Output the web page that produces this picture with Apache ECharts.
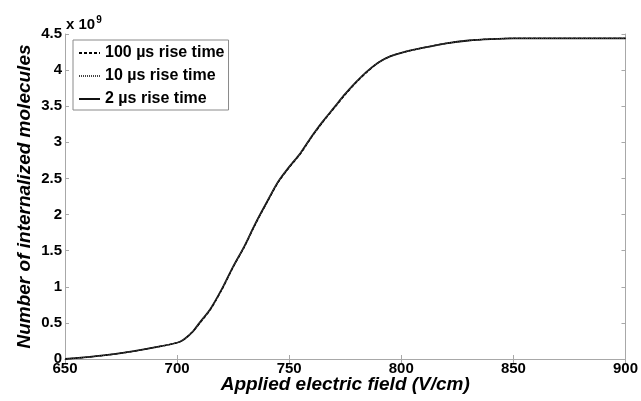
<!DOCTYPE html>
<html>
<head>
<meta charset="utf-8">
<script src="https://cdn.jsdelivr.net/npm/echarts@6/dist/echarts.min.js"></script>
<style>
 html, body { margin: 0; padding: 0; background: #fff; }
 #chart { width: 641px; height: 401px; }
</style>
</head>
<body>
<div id="chart"></div>
<script>
// applied electric field (V/cm)
var fieldValues = [650, 660, 670, 680, 690, 700, 703, 707, 710, 715, 720, 725, 730, 735, 740, 745, 750, 755, 760, 765, 770, 775, 780, 785, 790, 795, 800, 810, 820, 830, 840, 850, 875, 900];
// internalized molecules, x 10^9
var rise100us = [0, 0.025, 0.06, 0.105, 0.16, 0.225, 0.27, 0.38, 0.49, 0.69, 0.96, 1.27, 1.55, 1.87, 2.16, 2.44, 2.65, 2.84, 3.07, 3.28, 3.47, 3.66, 3.83, 3.98, 4.11, 4.19, 4.24, 4.31, 4.37, 4.41, 4.43, 4.44, 4.44, 4.44];
var rise10us = [0, 0.025, 0.06, 0.105, 0.16, 0.225, 0.27, 0.38, 0.5, 0.7, 0.97, 1.28, 1.56, 1.88, 2.17, 2.45, 2.66, 2.85, 3.08, 3.29, 3.48, 3.67, 3.84, 3.99, 4.11, 4.19, 4.24, 4.31, 4.37, 4.41, 4.43, 4.44, 4.44, 4.44];
var rise2us = [0, 0.025, 0.06, 0.105, 0.16, 0.225, 0.27, 0.38, 0.5, 0.7, 0.97, 1.28, 1.56, 1.88, 2.17, 2.45, 2.66, 2.85, 3.08, 3.29, 3.48, 3.67, 3.84, 3.99, 4.11, 4.19, 4.24, 4.31, 4.37, 4.41, 4.43, 4.44, 4.44, 4.44];
var seriesNames = ['100 µs rise time', '10 µs rise time', '2 µs rise time'];
var xTicks = [650, 700, 750, 800, 850, 900];
var yTicks = [0, 0.5, 1, 1.5, 2, 2.5, 3, 3.5, 4, 4.5];

function pairs (ys) {
 return fieldValues.map(function(x, i) { return [x, ys[i]]; });
}

var chart = echarts.init(document.getElementById('chart'));
var font = 'Liberation Sans, Arial, sans-serif';
var boxColor = '#a8a8a8';

function xAxisCfg (pos, show) {
 return {
  type: 'value',
  position: pos,
  min: xTicks[0],
  max: xTicks[xTicks.length - 1],
  interval: 50,
  axisLine: { show: true, lineStyle: { color: boxColor, width: 1 } },
  axisTick: { show: true, inside: true, length: 4, lineStyle: { color: boxColor } },
  axisLabel: { show: show, color: '#000', fontFamily: font, fontWeight: 'bold', fontSize: 15, margin: 2 },
  splitLine: { show: false }
 };
}

function yAxisCfg (pos, show) {
 return {
  type: 'value',
  position: pos,
  min: yTicks[0],
  max: yTicks[yTicks.length - 1],
  interval: 0.5,
  axisLine: { show: true, lineStyle: { color: boxColor, width: 1 } },
  axisTick: { show: true, inside: true, length: 4, lineStyle: { color: boxColor } },
  axisLabel: { show: show, color: '#000', fontFamily: font, fontWeight: 'bold', fontSize: 15, margin: 3 },
  splitLine: { show: false }
 };
}

var xBottom = xAxisCfg('bottom', true);
xBottom.name = 'Applied electric field (V/cm)';
xBottom.nameLocation = 'middle';
xBottom.nameGap = 16;
xBottom.nameMoveOverlap = false;
xBottom.nameTextStyle = { color: '#000', fontFamily: font, fontWeight: 'bold', fontStyle: 'italic', fontSize: 19 };

var yLeft = yAxisCfg('left', true);
yLeft.name = 'Number of internalized molecules';
yLeft.nameLocation = 'middle';
yLeft.nameGap = 31;
yLeft.nameMoveOverlap = false;
yLeft.nameTextStyle = { color: '#000', fontFamily: font, fontWeight: 'bold', fontStyle: 'italic', fontSize: 19 };

var option = {
 animation: false,
 backgroundColor: '#fff',
 grid: { left: 65, right: 15, top: 34, bottom: 42 },
 legend: {
  orient: 'vertical',
  left: 73,
  top: 40,
  itemWidth: 21,
  itemHeight: 14,
  itemGap: 7,
  padding: [5, 4, 3, 5],
  borderColor: '#8a8a8a',
  borderWidth: 1,
  backgroundColor: '#fff',
  itemStyle: { opacity: 0 },
  textStyle: { color: '#000', fontFamily: font, fontWeight: 'bold', fontSize: 16 },
  data: seriesNames
 },
 graphic: [
  {
   type: 'text',
   left: 66,
   top: 15,
   style: {
    text: 'x 10{sup|9}',
    fill: '#000',
    font: 'bold 15px ' + font,
    rich: { sup: { fontSize: 10, fontWeight: 'bold', fontFamily: font, verticalAlign: 'top', padding: [0, 0, 9, 1] } }
   }
  }
 ],
 xAxis: [xBottom, xAxisCfg('top', false)],
 yAxis: [yLeft, yAxisCfg('right', false)],
 series: [
  {
   name: seriesNames[0],
   type: 'line',
   data: pairs(rise100us),
   symbol: 'none',
   smooth: 0.3,
   lineStyle: { color: '#000', width: 1.2, type: [3, 2] },
   itemStyle: { color: '#000' },
   z: 3
  },
  {
   name: seriesNames[1],
   type: 'line',
   data: pairs(rise10us),
   symbol: 'none',
   smooth: 0.3,
   lineStyle: { color: '#444', width: 1.2, type: [1, 1] },
   itemStyle: { color: '#444' },
   z: 3
  },
  {
   name: seriesNames[2],
   type: 'line',
   data: pairs(rise2us),
   symbol: 'none',
   smooth: 0.3,
   lineStyle: { color: '#111', width: 1.8, type: 'solid' },
   itemStyle: { color: '#111' },
   z: 2
  }
 ]
};

chart.setOption(option);
</script>
</body>
</html>
